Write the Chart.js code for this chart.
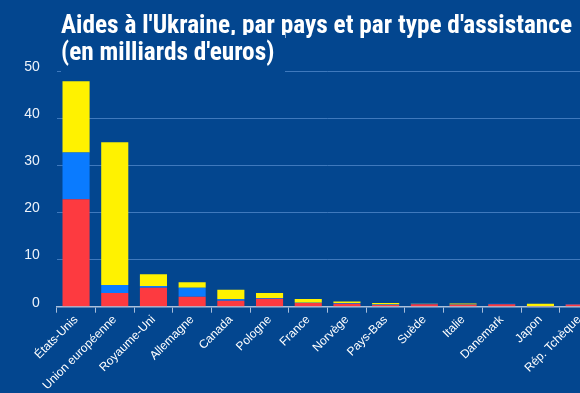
<!DOCTYPE html>
<html>
<head>
<meta charset="utf-8">
<script src="https://cdn.jsdelivr.net/npm/chart.js@4.4.0/dist/chart.umd.min.js"></script>
<style>
  html, body { margin: 0; padding: 0; background: #03468f; overflow: hidden; }
  #wrap { position: relative; width: 600px; height: 393px; }
  #title { position: absolute; left: 61px; top: 11px; color: #fff;
    font-family: "Liberation Sans Narrow", "Roboto Condensed", sans-serif;
    font-weight: bold; font-size: 25.3px; line-height: 27px; white-space: nowrap; }
  #title span { background: #03468f; display: inline-block; }
  #title .l2 { padding-right: 11px; padding-bottom: 9px; box-shadow: 0 -3px 0 #03468f; }
</style>
</head>
<body>
<div id="wrap">
  <canvas id="myChart" width="600" height="393"></canvas>
  <div id="title"><span class="l1">Aides à l'Ukraine, par pays et par type d'assistance</span><br><span class="l2">(en milliards d'euros)</span></div>
</div>
<script>
// data (milliards d'euros)
let pays = ['États-Unis', 'Union européenne', 'Royaume-Uni', 'Allemagne', 'Canada', 'Pologne', 'France',
    'Norvège', 'Pays-Bas', 'Suède', 'Italie', 'Danemark', 'Japon', 'Rép. Tchèque'];
let militaire   = [22.8, 2.9, 4.0, 2.1, 1.27, 1.7, 0.8, 0.6, 0.35, 0.5, 0.4, 0.5, 0.03, 0.45];
let humanitaire = [9.9, 1.7, 0.4, 1.9, 0.3, 0.15, 0.05, 0.2, 0.1, 0.1, 0.05, 0.1, 0.05, 0.1];
let financiere  = [15.1, 30.3, 2.5, 1.2, 2.03, 1.05, 0.8, 0.3, 0.35, 0.1, 0.25, 0, 0.55, 0];
let yTicks = [0, 10, 20, 30, 40, 50];

const ctx = document.getElementById('myChart').getContext('2d');

const config = {
    type: 'bar',
    data: {
        labels: pays,
        datasets: [
            { label: 'Militaire', data: militaire, backgroundColor: '#fd3a40' },
            { label: 'Humanitaire', data: humanitaire, backgroundColor: '#0a7bff' },
            { label: 'Financière', data: financiere, backgroundColor: '#fff200' },
        ],
    },
    options: {
        responsive: false,
        animation: false,
        barPercentage: 0.7,
        categoryPercentage: 1,
        layout: { padding: { top: 71, right: 1.5, bottom: 0, left: 0 } },
        plugins: { legend: { display: false }, title: { display: false }, tooltip: { enabled: false } },
        scales: {
            x: {
                stacked: true,
                grid: { drawOnChartArea: false, color: '#a9bfdc', tickLength: 6, offset: true },
                border: { color: '#a9bfdc', width: 1.5 },
                ticks: { color: '#ffffff', font: { family: 'Liberation Sans', size: 12 },
                    minRotation: 45, maxRotation: 45, padding: 0, autoSkip: false },
                afterFit: (scale) => { scale.height = 86.3; },
            },
            y: {
                stacked: true,
                min: 0, max: 50,
                afterBuildTicks: (scale) => { scale.ticks = yTicks.map(v => ({ value: v })); },
                grid: { color: (c) => c.tick.value === 0 ? 'rgba(0,0,0,0)' : '#3f79bd', drawTicks: false, lineWidth: 1 },
                border: { display: false },
                ticks: { color: '#eef3fa', font: { family: 'Liberation Sans', size: 14 }, padding: 17, labelOffset: -4 },
                afterFit: (scale) => { scale.width = 56.7; },
            },
        },
    },
};

const myChart = new Chart(ctx, config);
</script>
</body>
</html>
